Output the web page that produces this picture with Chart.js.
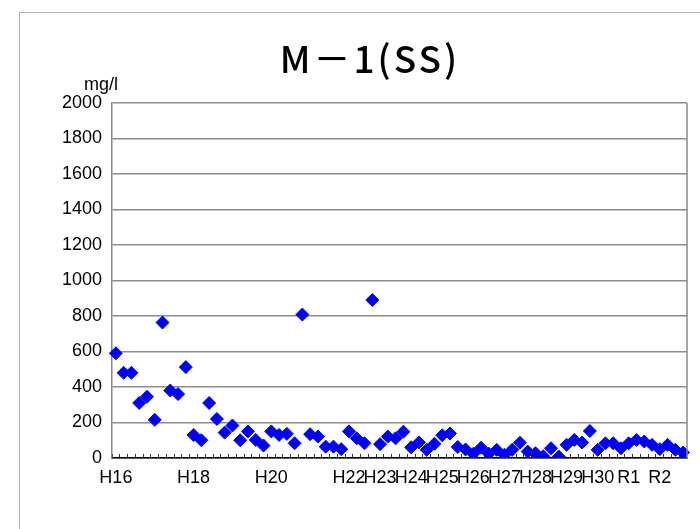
<!DOCTYPE html>
<html>
<head>
<meta charset="utf-8">
<script src="https://cdn.jsdelivr.net/npm/chart.js@4"></script>
<style>
  body { margin: 0; background: #fff; overflow: hidden; }
  #wrap { position: relative; width: 700px; height: 529px; }
  #frame { position: absolute; left: 19px; top: 12px; width: 720px; height: 560px; border: 1.5px solid #b4b4b4; }
  canvas { position: absolute; left: 0; top: 0; }
</style>
</head>
<body>
<div id="wrap">
  <div id="frame"></div>
  <canvas id="chart" width="700" height="529"></canvas>
</div>
<script>
// year labels and the sample index where each one sits
const yearLabels = ['H16', 'H18', 'H20', 'H22', 'H23', 'H24', 'H25', 'H26', 'H27', 'H28', 'H29', 'H30', 'R1', 'R2'];
const yearIndex = [0, 10, 20, 30, 34, 38, 42, 46, 50, 54, 58, 62, 66, 70];

// SS values (mg/l), one per sample
const ssValues = [
  590, 480, 480, 310, 345, 215, 763, 380, 360, 512,
  130, 100, 310, 220, 143, 183, 100, 150, 102, 70,
  150, 130, 136, 83, 808, 134, 121, 64, 64, 50,
  150, 111, 83, 890, 78, 121, 111, 148, 60, 88,
  46, 80, 128, 138, 62, 48, 24, 58, 24, 46,
  18, 46, 86, 36, 27, 10, 55, 8, 74, 102,
  87, 152, 46, 83, 83, 55, 83, 102, 93, 74,
  50, 74, 46, 31
];

const categories = ssValues.map((v, i) => {
  const k = yearIndex.indexOf(i);
  return k >= 0 ? yearLabels[k] : '';
});

const yTicks = { min: 0, max: 2000, step: 200 };

const extras = {
  id: 'extras',
  afterDraw(chart) {
    const ctx = chart.ctx;
    const a = chart.chartArea;
    ctx.save();
    // right border of plot area
    ctx.strokeStyle = '#888';
    ctx.lineWidth = 1.5;
    ctx.beginPath();
    ctx.moveTo(a.right, a.top);
    ctx.lineTo(a.right, a.bottom);
    ctx.stroke();
    // title
    ctx.fillStyle = '#000';
    ctx.font = '500 37px "Noto Sans CJK JP"';
    ctx.letterSpacing = '3px';
    ctx.textAlign = 'center';
    ctx.textBaseline = 'middle';
    ctx.fillText('M－1(SS)', 370, 59);
    ctx.letterSpacing = '0px';
    // unit
    ctx.font = '18px "Liberation Sans", Arial, sans-serif';
    ctx.textAlign = 'right';
    ctx.fillText('mg/l', 118, 85);
    ctx.restore();
  }
};

new Chart(document.getElementById('chart'), {
  type: 'line',
  data: {
    labels: categories,
    datasets: [
      {
        data: ssValues,
        showLine: false,
        pointStyle: 'rectRot',
        pointRadius: 6.5,
        pointHoverRadius: 6.5,
        backgroundColor: '#0000ff',
        borderColor: '#0000ff',
        borderWidth: 1,
      },
    ],
  },
  options: {
    responsive: false,
    animation: false,
    layout: { padding: { left: 0, right: 13, top: 103, bottom: 0 } },
    plugins: {
      legend: { display: false },
      title: { display: false },
      tooltip: { enabled: false },
    },
    scales: {
      x: {
        offset: true,
        afterFit: s => { s.height = 71; },
        border: { color: '#000', width: 1.5 },
        grid: {
          offset: true,
          drawOnChartArea: false,
          drawTicks: true,
          tickLength: -4,
          color: '#333',
        },
        ticks: {
          autoSkip: false,
          maxRotation: 0,
          minRotation: 0,
          padding: 13,
          color: '#000',
          font: { family: '"Liberation Sans", Arial, sans-serif', size: 18 },
        },
      },
      y: {
        min: yTicks.min,
        max: yTicks.max,
        afterFit: s => { s.width = 112; },
        border: { color: '#888', width: 1.5 },
        grid: { color: '#8c8c8c', lineWidth: 1.5, drawTicks: false },
        ticks: {
          stepSize: yTicks.step,
          padding: 10,
          color: '#000',
          callback: v => String(v),
          font: { family: '"Liberation Sans", Arial, sans-serif', size: 18 },
        },
      },
    },
  },
  plugins: [extras],
});
</script>
</body>
</html>
